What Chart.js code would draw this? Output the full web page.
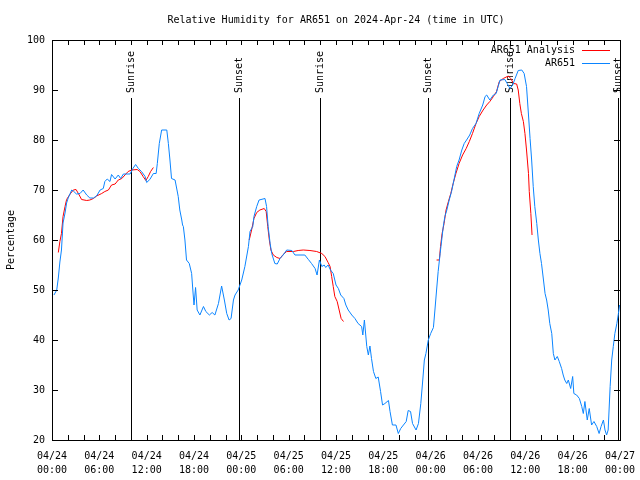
<!DOCTYPE html>
<html>
<head>
<meta charset="utf-8">
<title>Relative Humidity for AR651</title>
<script src="https://cdn.jsdelivr.net/npm/chart.js@4.4.1/dist/chart.umd.min.js"></script>
<style>
  html, body { margin: 0; padding: 0; background: #fff; }
  canvas { display: block; }
</style>
</head>
<body>
<canvas id="rhChart" width="640" height="480"></canvas>
<script>
// --------- Data (hours since 04/24 00:00 UTC) --------

const stationTimes = [
  0.25, 0.6, 0.8, 1.0, 1.2, 1.4, 1.65, 1.85, 2.05, 2.5, 2.7, 3.1, 3.55, 3.95, 4.4, 4.8, 5.25, 5.65,
  6.1, 6.5, 6.7, 7.0, 7.35, 7.55, 8.0, 8.4, 8.7, 9.05, 9.9, 10.25, 10.6, 10.95, 11.35, 11.8, 12.0,
  12.4, 12.85, 13.2, 13.35, 13.6, 13.9, 14.55, 14.75, 14.95, 15.15, 15.6, 16.0, 16.2, 16.45, 16.55,
  16.65, 16.85, 17.05, 17.4, 17.7, 17.9, 18.0, 18.2, 18.4, 18.75, 19.2, 19.5, 19.95, 20.3, 20.65,
  21.1, 21.5, 21.85, 22.15, 22.45, 22.7, 23.0, 23.2, 23.6, 24.05, 24.45, 24.9, 25.1, 25.45, 25.6,
  25.95, 26.25, 27.0, 27.2, 27.4, 27.65, 27.85, 28.25, 28.55, 28.9, 29.3, 29.75, 30.4, 30.8, 32.05,
  32.5, 32.9, 33.35, 33.6, 33.9, 34.2, 34.5, 34.7, 35.0, 35.3, 35.65, 36.0, 36.3, 36.6, 37.0, 37.25,
  37.55, 38.0, 38.4, 38.8, 39.25, 39.4, 39.6, 39.9, 40.1, 40.3, 40.5, 40.75, 41.05, 41.35, 41.65,
  41.9, 42.2, 42.65, 42.85, 43.15, 43.6, 43.9, 44.2, 44.55, 44.9, 45.15, 45.45, 45.7, 46.15, 46.45,
  46.75, 47.0, 47.2, 47.4, 47.7, 48.0, 48.35, 48.55, 48.75, 48.95, 49.2, 49.4, 49.6, 49.8, 50.05,
  50.35, 50.65, 50.95, 51.3, 51.6, 51.95, 52.25, 52.55, 52.95, 53.3, 53.75, 54.15, 54.6, 54.9, 55.1,
  55.5, 55.95, 56.3, 56.55, 56.8, 57.4, 57.7, 58.05, 58.4, 58.7, 59.1, 59.55, 59.85, 60.15, 60.4,
  60.6, 60.8, 61.0, 61.2, 61.45, 61.65, 61.85, 62.05, 62.3, 62.5, 62.7, 62.9, 63.1, 63.35, 63.55,
  63.75, 64.05, 64.3, 64.6, 64.8, 65.0, 65.25, 65.45, 65.75, 66.0, 66.15, 66.5, 66.85, 67.15, 67.35,
  67.55, 67.85, 68.1, 68.4, 68.7, 69.05, 69.35, 69.6, 69.9, 70.1, 70.3, 70.5, 70.75, 70.95, 71.15,
  71.35, 71.6, 71.8, 71.95
];
const stationValues = [
  49, 50, 52.4, 55.6, 58, 63.4, 65.4, 67.4, 68.4, 70, 69.8, 69.2, 69.3, 70, 69, 68.4, 68.4, 68.8,
  70, 70.3, 71.7, 72.2, 71.7, 73.1, 72.2, 73, 72.3, 73.2, 73.2, 74.3, 75.1, 74.3, 73.7, 72.7, 71.5,
  72.1, 73.3, 73.3, 75.3, 79.3, 82, 82, 79.3, 76, 72.3, 72, 68.7, 66, 64, 63,
  62.7, 60, 56, 55.3, 53.3, 49, 47, 50.5, 46, 45, 46.7, 45.7, 45, 45.5, 45,
  47.3, 50.8, 48, 45.3, 44, 44.3, 48, 49, 50, 52, 54.7, 58.7, 61.7, 62.7, 64.7,
  66.7, 68, 68.3, 66.7, 62.7, 59.3, 57.3, 55.3, 55.2, 56.3, 57, 58, 57.9, 57, 57,
  56.1, 55.3, 54.3, 53, 56, 54.7, 55, 54.5, 55, 54, 53.3, 51, 50.3, 49, 48.3, 47,
  46, 45, 44.3, 43.3, 42.7, 41, 44, 38.7, 37, 38.8, 36.3, 33.7, 32.3, 32.6, 29.7,
  27, 27.3, 27.9, 25.7, 23, 23, 21.3, 22.3, 23, 23.7, 25.9, 25.7, 23.3, 22, 23.3,
  27.3, 32, 36, 37.3, 40, 41.3, 42.5, 46.2, 50, 53.7, 57.3, 60, 62.7, 64.7, 66,
  68, 69.7, 72, 74.7, 76, 78, 79.3, 80, 81, 82.3, 83.3, 85.3, 87, 88.7, 89,
  88, 89, 89.3, 90.7, 92, 92.1, 91.3, 90.3, 91, 92.3, 93.9, 94, 93.3, 90.7, 85,
  80.3, 76, 70.7, 66.7, 63.3, 60, 57.3, 55.3, 52, 49.3, 48, 46, 43.3, 41.3, 37.3,
  36, 36.7, 35.7, 34.3, 33, 32, 31.3, 32, 30.3, 32.7, 29.3, 29, 28.3, 26.7, 25.3,
  27.7, 24, 26.3, 23, 23.7, 22.7, 21.3, 22.7, 24, 22, 21, 22, 30.7, 36, 38.7,
  41.3, 43.3, 45.3, 47
];

const analysisTimes = [
  0.8, 1.0, 1.2, 1.4, 1.65, 1.85, 2.3, 2.7, 3.05, 3.45, 3.75, 4.4, 4.8, 5.25, 5.65, 6.3, 6.7, 7.15,
  7.55, 8.0, 8.4, 8.85, 9.25, 9.65, 10.1, 10.8, 11.15, 11.55, 11.9, 12.2, 12.5, 12.85, 13.0,
  25.0, 25.3, 25.6, 25.95, 26.35, 26.9, 27.15, 27.35, 27.55, 27.75, 28.05, 28.5, 28.9, 29.3, 29.75,
  30.6, 31.2, 31.85, 32.7, 33.55, 34.2, 34.6, 35.0, 35.25, 35.45, 35.65, 35.85, 36.15, 36.4, 36.65,
  36.95, 37.1,
  48.75, 49.1, 49.25, 49.45, 49.7, 49.95, 50.25, 50.55, 50.85, 51.2, 51.6, 52.05, 52.5, 52.9, 53.3,
  53.75, 54.15, 54.65, 55.1, 55.5, 55.95, 56.35, 56.7, 57.2, 57.85, 58.15, 58.5, 58.9, 59.1, 59.3,
  59.5, 59.75, 59.95, 60.15, 60.4, 60.5, 60.7, 60.85
];
const analysisValues = [
  57.5, 59.7, 61.3, 64.7, 66.7, 68.1, 69.2, 70, 70.1, 69, 68.1, 67.9, 68, 68.3, 68.8, 69.3, 69.7, 70,
  71, 71.2, 72, 72.3, 73, 73.7, 74, 74.1, 73.7, 72.7, 71.9, 72.7, 73.7, 74.5, null,
  60, 62, 64.3, 65.5, 66, 66.3, 65.7, 62.7, 60, 58, 57, 56.5, 56.3, 57.1, 57.7,
  57.7, 57.9, 58, 57.9, 57.7, 57.3, 56.7, 55.5, 54.7, 52.7, 50.7, 48.7, 47.7, 46, 44.3,
  43.7, null,
  56, 56, 58.7, 61.3, 63.3, 66, 67.7, 69.3, 71.3, 73.3, 75.3, 77, 78.3, 79.7, 81.3,
  83.3, 84.7, 86, 87, 87.7, 88.7, 89.7, 91.7, 92.3, 92.8, 92.3, 91.3, 91.2, 90, 87.3,
  85.3, 83.7, 81.3, 78, 73.3, 69.7, 65.3, 61
];

// sun events (hours since start)
const sunEventTimes = [10.0, 23.7, 33.97, 47.66, 58.05, 71.75];
const sunEventNames = ['Sunrise', 'Sunset', 'Sunrise', 'Sunset', 'Sunrise', 'Sunset'];

// axis ticks
const xTickDays = ['04/24', '04/24', '04/24', '04/24', '04/25', '04/25', '04/25', '04/25', '04/26', '04/26', '04/26', '04/26', '04/27'];
const xTickHours = ['00:00', '06:00', '12:00', '18:00', '00:00', '06:00', '12:00', '18:00', '00:00', '06:00', '12:00', '18:00', '00:00'];
const yTicks = [20, 30, 40, 50, 60, 70, 80, 90, 100];

const FONT = '"DejaVu Sans Mono", "Liberation Mono", monospace';

// --------- Extra drawing (frame, inward ticks, sun lines, legend, titles) --------

const gnuplotLook = {
    id: 'gnuplotLook',
    beforeDatasetsDraw(chart) {
        const { ctx, chartArea, scales } = chart;
        ctx.save();
        ctx.strokeStyle = '#000';
        ctx.lineWidth = 1;
        ctx.fillStyle = '#000';
        ctx.font = '10px ' + FONT;
        sunEventTimes.forEach((t, i) => {
            const x = Math.round(scales.x.getPixelForValue(t)) + 0.5;
            ctx.beginPath();
            ctx.moveTo(x, 98);
            ctx.lineTo(x, chartArea.bottom);
            ctx.stroke();
            ctx.save();
            ctx.translate(x, 93);
            ctx.rotate(-Math.PI / 2);
            ctx.textAlign = 'left';
            ctx.textBaseline = 'middle';
            ctx.fillText(sunEventNames[i], 0, 0);
            ctx.restore();
        });
        ctx.restore();
    },
    afterDraw(chart) {
        const { ctx, chartArea, scales } = chart;
        const { left, right, top, bottom } = chartArea;
        ctx.save();
        ctx.strokeStyle = '#000';
        ctx.lineWidth = 1;

        // frame
        ctx.strokeRect(left + 0.5, top + 0.5, right - left, bottom - top);

        // inward ticks
        ctx.beginPath();
        scales.x.ticks.forEach(tk => {
            const x = Math.round(scales.x.getPixelForValue(tk.value)) + 0.5;
            ctx.moveTo(x, bottom);
            ctx.lineTo(x, bottom - 5);
            ctx.moveTo(x, top);
            ctx.lineTo(x, top + 5);
        });
        scales.y.ticks.forEach(tk => {
            const y = Math.round(scales.y.getPixelForValue(tk.value)) + 0.5;
            ctx.moveTo(left, y);
            ctx.lineTo(left + 6, y);
            ctx.moveTo(right, y);
            ctx.lineTo(right - 6, y);
        });
        ctx.stroke();

        // title
        ctx.fillStyle = '#000';
        ctx.font = '10px ' + FONT;
        ctx.textAlign = 'center';
        ctx.textBaseline = 'middle';
        ctx.fillText('Relative Humidity for AR651 on 2024-Apr-24 (time in UTC)', (left + right) / 2, 20);

        // y axis label
        ctx.save();
        ctx.translate(11, (top + bottom) / 2);
        ctx.rotate(-Math.PI / 2);
        ctx.fillText('Percentage', 0, 0);
        ctx.restore();

        // legend (text then line sample, gnuplot style)
        const legendOrder = [1, 0];
        legendOrder.forEach((dsIndex, row) => {
            const ds = chart.data.datasets[dsIndex];
            const y = 50 + row * 13;
            ctx.textAlign = 'right';
            ctx.fillStyle = '#000';
            ctx.fillText(ds.label, 575, y);
            ctx.strokeStyle = ds.borderColor;
            ctx.beginPath();
            ctx.moveTo(582, y + 0.5);
            ctx.lineTo(610, y + 0.5);
            ctx.stroke();
        });
        ctx.restore();
    }
};

// --------- Chart --------

const toPoints = (times, values) => times.map((t, i) => ({ x: t, y: values[i] }));

const ctx = document.getElementById('rhChart').getContext('2d');
const rhChart = new Chart(ctx, {
    type: 'line',
    data: {
        datasets: [{
            label: 'AR651',
            data: toPoints(stationTimes, stationValues),
            borderColor: '#0a84ff',
            borderWidth: 1,
            pointRadius: 0,
            tension: 0,
            fill: false
        }, {
            label: 'AR651 Analysis',
            data: toPoints(analysisTimes, analysisValues),
            borderColor: '#ff0000',
            borderWidth: 1,
            pointRadius: 0,
            tension: 0,
            fill: false,
            spanGaps: false
        }]
    },
    options: {
        responsive: false,
        animation: false,
        devicePixelRatio: 1,
        layout: { padding: { top: 40, right: 20, left: 0, bottom: 0 } },
        plugins: {
            legend: { display: false },
            title: { display: false },
            tooltip: { enabled: false }
        },
        scales: {
            x: {
                type: 'linear',
                min: 0,
                max: 72,
                grid: { display: false, drawTicks: false },
                border: { display: false },
                afterFit: scale => { scale.height = 40; scale.paddingRight = 0; scale.paddingLeft = 0; },
                afterBuildTicks: scale => {
                    const ticks = [];
                    for (let h = 0; h <= 72; h += 2) ticks.push({ value: h });
                    scale.ticks = ticks;
                },
                ticks: {
                    autoSkip: false,
                    maxRotation: 0,
                    padding: 9,
                    color: '#000',
                    font: { family: FONT, size: 10, lineHeight: '14px' },
                    callback: value => value % 6 === 0 ? [xTickDays[value / 6], xTickHours[value / 6]] : ''
                }
            },
            y: {
                min: 20,
                max: 100,
                grid: { display: false, drawTicks: false },
                border: { display: false },
                afterFit: scale => { scale.width = 52; scale.paddingTop = 0; scale.paddingBottom = 0; },
                afterBuildTicks: scale => { scale.ticks = yTicks.map(v => ({ value: v })); },
                ticks: {
                    padding: 7,
                    color: '#000',
                    font: { family: FONT, size: 10 }
                }
            }
        }
    },
    plugins: [gnuplotLook]
});
</script>
</body>
</html>
